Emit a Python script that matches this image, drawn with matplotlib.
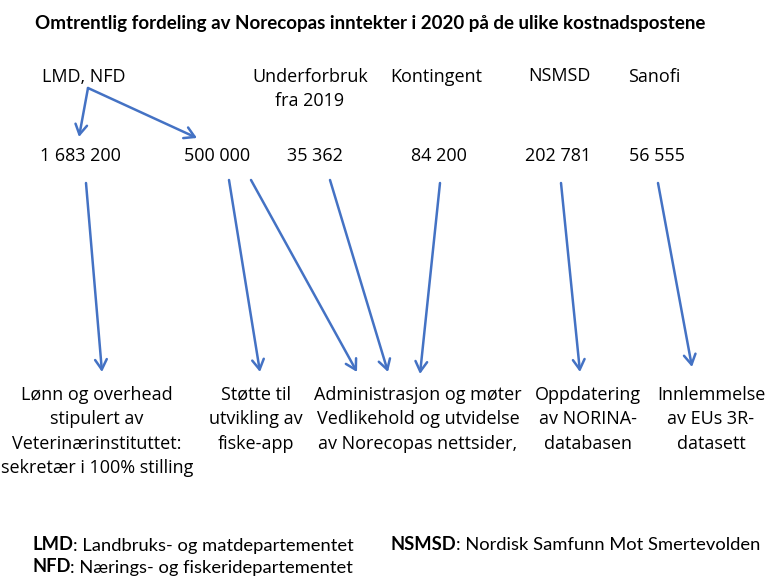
import matplotlib.pyplot as plt

plt.rcParams['font.family'] = ['Open Sans', 'DejaVu Sans']

title = 'Omtrentlig fordeling av Norecopas inntekter i 2020 på de ulike kostnadspostene'
sources = ['LMD, NFD', 'Underforbruk\nfra 2019', 'Kontingent', 'NSMSD', 'Sanofi']
amounts = ['1 683 200', '500 000', '35 362', '84 200', '202 781', '56 555']
targets = ['Lønn og overhead\nstipulert av\nVeterinærinstituttet:\nsekretær i 100% stilling',
           'Støtte til\nutvikling av\nfiske-app',
           'Administrasjon og møter\nVedlikehold og utvidelse\nav Norecopas nettsider,',
           'Oppdatering\nav NORINA-\ndatabasen',
           'Innlemmelse\nav EUs 3R-\ndatasett']
# LMD, NFD split into the first two amounts
split = [0, 1]
# amount index -> cost item index
flows = [(0, 0), (1, 1), (1, 2), (2, 2), (3, 2), (4, 3), (5, 4)]
abbrevs = [('LMD', ': Landbruks- og matdepartementet'),
           ('NFD', ': Nærings- og fiskeridepartementet'),
           ('NSMSD', ': Nordisk Samfunn Mot Smertevolden')]

# layout (pixels, y downwards)
source_x = [84, 310, 436, 559, 654]
source_y = [77, 89, 77, 76, 77]
amount_x = [80, 217, 315, 439, 558, 657]
amount_y = 156
target_x = [97, 256, 418, 588, 711]
target_top = 386
split_start = (88, 88)
split_end = [(79, 137), (197, 138)]
flow_start = [(86, 183), (229, 180), (251, 180), (330, 180), (440, 183), (561, 183), (658, 183)]
flow_end = [(102, 372), (260, 372), (357, 372), (388, 372), (420, 374), (580, 372), (692, 367)]
abbrev_pos = [(32, 545), (32, 567), (390, 545)]

blue = '#4472C4'
arrow = dict(arrowstyle='->,head_length=0.6,head_width=0.35', color=blue, lw=1.8,
             mutation_scale=12, shrinkA=0, shrinkB=0)

fig = plt.figure(figsize=(7.66, 5.76), dpi=100)
ax = fig.add_axes([0, 0, 1, 1])
ax.set_xlim(0, 766)
ax.set_ylim(576, 0)
ax.axis('off')

ax.text(35, 23, title, fontsize=13.5, weight='bold', va='center', ha='left', family='Lato')

for lab, x, y in zip(sources, source_x, source_y):
    ax.text(x, y, lab, fontsize=13, ha='center', va='center', linespacing=1.45)

for lab, x in zip(amounts, amount_x):
    ax.text(x, amount_y, lab, fontsize=13, ha='center', va='center')

for lab, x in zip(targets, target_x):
    ax.text(x, target_top, lab, fontsize=13, ha='center', va='top', linespacing=1.45)

for i, end in zip(split, split_end):
    ax.annotate('', xy=end, xytext=split_start, arrowprops=arrow)

for (a, t), s, e in zip(flows, flow_start, flow_end):
    ax.annotate('', xy=e, xytext=s, arrowprops=arrow)

for (short, long), (x, y) in zip(abbrevs, abbrev_pos):
    t = ax.text(x, y, short, fontsize=13.2, weight='bold', va='center', ha='left', family='Lato')
    ax.annotate(long, xy=(1, 0), xycoords=t, va='bottom', ha='left', fontsize=13.2, family='Lato')

fig.savefig('out.png', dpi=100)
